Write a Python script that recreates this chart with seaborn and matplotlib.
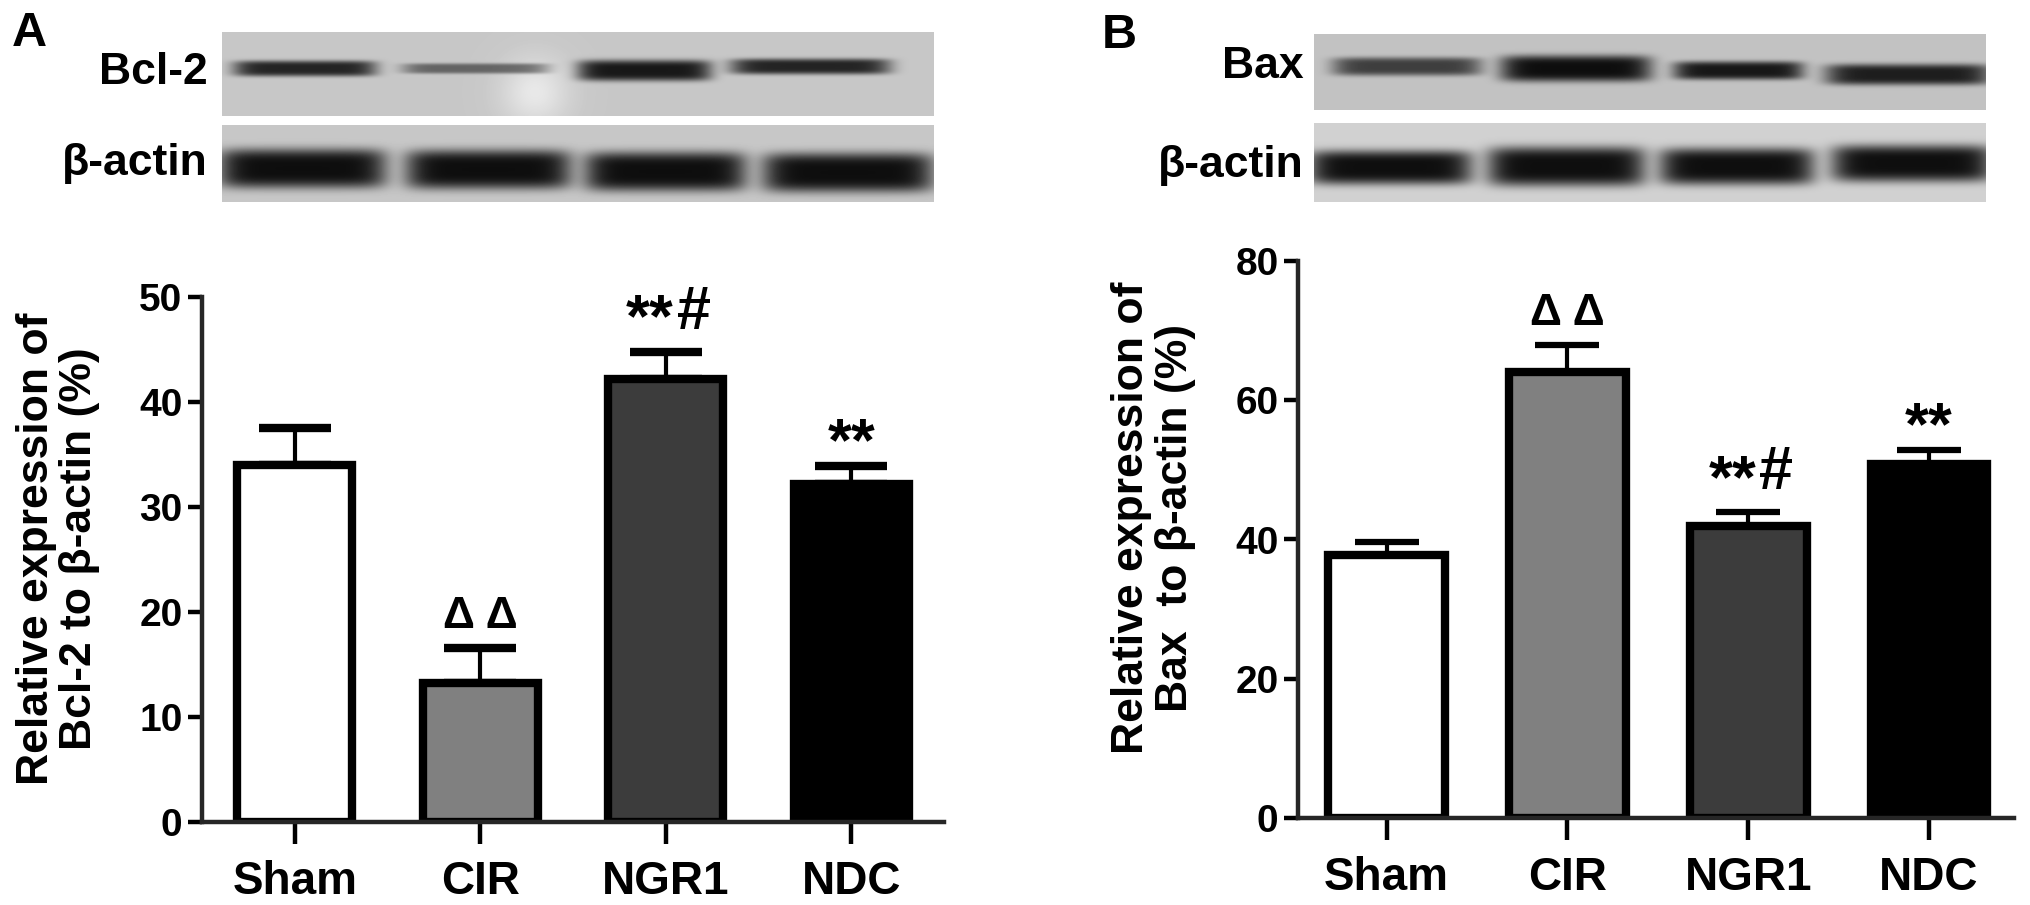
import numpy as np
import pandas as pd
import matplotlib
matplotlib.use("Agg")
import matplotlib.pyplot as plt
import seaborn as sns

# values
groups = ["Sham", "CIR", "NGR1", "NDC"]
bcl2_mean = [34.0, 13.2, 42.2, 32.2]
bcl2_err = [3.5, 3.4, 2.6, 1.7]
bax_mean = [37.8, 64.0, 41.9, 50.9]
bax_err = [1.9, 3.9, 2.0, 1.9]
bar_colors = ["#ffffff", "#808080", "#3c3c3c", "#000000"]
bcl2_marks = ["", "Δ Δ", "**#", "**"]
bax_marks = ["", "Δ Δ", "**#", "**"]

# western blot lanes: left, right, band centre, half thickness (pixels), darkness
bcl2_lanes = [(233, 376, 68, 6, 0.82), (402, 548, 68, 4, 0.50), (577, 711, 70, 8, 0.88), (730, 890, 66, 6, 0.82)]
bcl2_actin = [(218, 386, 168, 15, 0.93), (405, 571, 169, 15, 0.93), (584, 746, 171, 15, 0.93), (762, 933, 172, 15, 0.93)]
bax_lanes = [(1332, 1481, 66, 7, 0.68), (1500, 1651, 68, 10, 0.93), (1673, 1803, 70, 7, 0.88), (1825, 1990, 74, 8, 0.85)]
bax_actin = [(1308, 1472, 167, 13, 0.93), (1487, 1645, 166, 15, 0.93), (1659, 1814, 166, 14, 0.93), (1831, 1992, 163, 14, 0.93)]

W, H = 2031, 905
sns.set_style("white")
plt.rcParams["font.family"] = ["Liberation Sans", "DejaVu Sans"]
plt.rcParams["font.weight"] = "bold"
plt.rcParams["text.color"] = "black"
plt.rcParams["axes.labelcolor"] = "black"
plt.rcParams["xtick.color"] = "black"
plt.rcParams["ytick.color"] = "black"

fig = plt.figure(figsize=(W / 100, H / 100), dpi=100)


def px_axes(left, top, right, bottom):
    return fig.add_axes([left / W, 1 - bottom / H, (right - left) / W, (bottom - top) / H])


def draw_blot(left, top, right, bottom, lanes, background, spot=None):
    # soft dark bands on a grey membrane
    ax = px_axes(left, top, right, bottom)
    yy, xx = np.mgrid[top:bottom, left:right]
    img = np.full(yy.shape, background, dtype=float)
    if spot:
        sx, sy, sr = spot
        img = img + 0.13 * np.exp(-((xx - sx) ** 2 + (yy - sy) ** 2) / sr ** 2)
    for x0, x1, yc, half, dark in lanes:
        xc = (x0 + x1) / 2
        xhalf = (x1 - x0) / 2
        d = np.abs((xx - xc) / xhalf) ** 8 + np.abs((yy - yc) / (half * 1.3)) ** 4
        img = img * (1 - dark * np.exp(-d))
    ax.imshow(img, cmap="gray", vmin=0, vmax=1, aspect="auto", interpolation="bilinear")
    ax.axis("off")


def put_mark(ax, i, y, text, dx, dy, size):
    # dx, dy in pixels from the top of the error bar
    ax.annotate(text, xy=(i, y), xytext=(dx * 0.72, dy * 0.72), textcoords="offset points",
                ha="center", va="baseline", fontsize=size, fontweight="bold", color="black")


def draw_bars(box, means, errs, marks, ymax, step, xlim, width, capsize, capthick,
              ylabel, label_x, label_y):
    ax = px_axes(*box)
    df = pd.DataFrame({"group": groups, "mean": means})
    sns.barplot(data=df, x="group", y="mean", hue="group", palette=bar_colors, dodge=False,
                width=width, edgecolor="black", linewidth=6, legend=False, ax=ax, zorder=3)
    ax.errorbar(range(4), means, yerr=[np.zeros(4), errs], fmt="none", ecolor="black",
                elinewidth=3, capsize=capsize, capthick=capthick, zorder=2)
    for i, m in enumerate(marks):
        top = means[i] + errs[i]
        if m == "Δ Δ":
            put_mark(ax, i, top, m, 0, 20, 32)
        elif m == "**#":
            put_mark(ax, i, top, "**", -16, 15, 44)
            put_mark(ax, i, top, "#", 28, 23, 44)
        elif m == "**":
            put_mark(ax, i, top, "**", 0, 6, 44)
    ax.set_xlim(*xlim)
    ax.set_ylim(0, ymax)
    ax.set_yticks(np.arange(0, ymax + 1, step))
    ax.tick_params(axis="y", direction="out", length=10, width=3.2, left=True, labelsize=28, pad=4)
    ax.tick_params(axis="x", direction="out", length=16, width=3.2, bottom=True, labelsize=33, pad=11)
    sns.despine(ax=ax)
    ax.spines["left"].set_linewidth(3.2)
    ax.spines["bottom"].set_linewidth(3.2)
    ax.spines["bottom"].set_zorder(5)
    ax.set_xlabel("")
    ax.set_ylabel(ylabel, fontsize=32, fontweight="bold", linespacing=1.08)
    ax.yaxis.set_label_coords(label_x, label_y)
    return ax


# panel A
draw_blot(222, 32, 934, 116, bcl2_lanes, 0.78, spot=(535, 92, 34))
draw_blot(222, 125, 934, 202, bcl2_actin, 0.78)
draw_bars((202, 297, 944, 822), bcl2_mean, bcl2_err, bcl2_marks, 50, 10, (-0.5, 3.5), 0.62, 26, 6,
          "Relative expression of\nBcl-2 to β-actin (%)", -0.137, 0.52)

# panel B
draw_blot(1314, 34, 1986, 110, bax_lanes, 0.76)
draw_blot(1314, 123, 1986, 202, bax_actin, 0.82)
draw_bars((1298, 261, 2014, 818), bax_mean, bax_err, bax_marks, 80, 20, (-0.49, 3.47), 0.645, 23, 4.5,
          "Relative expression of\nBax  to β-actin (%)", -0.143, 0.539)

for txt, x, y in [("Bcl-2", 208, 73), ("β-actin", 208, 163), ("Bax", 1304, 67), ("β-actin", 1304, 165)]:
    fig.text(x / W, 1 - y / H, txt, ha="right", va="center", fontsize=32, fontweight="bold")
fig.text(29 / W, 1 - 34 / H, "A", ha="center", va="center", fontsize=35, fontweight="bold")
fig.text(1119 / W, 1 - 35 / H, "B", ha="center", va="center", fontsize=35, fontweight="bold")

fig.savefig("out.png", dpi=100)
